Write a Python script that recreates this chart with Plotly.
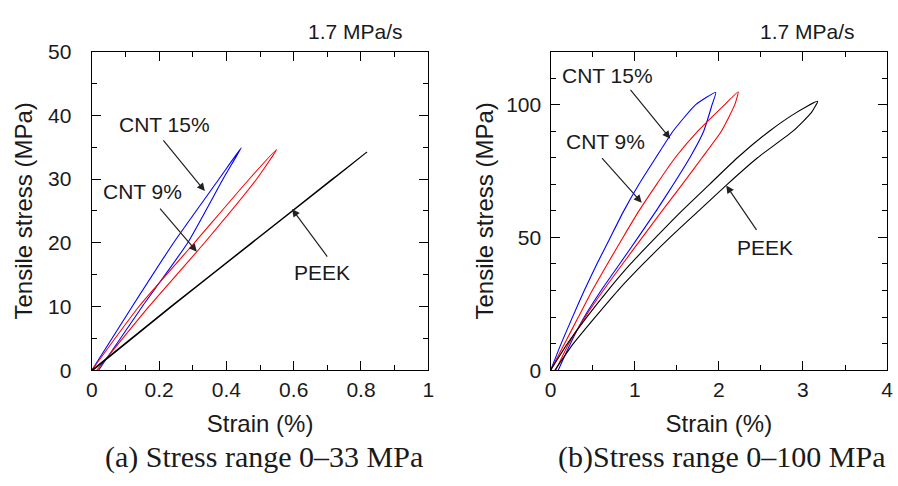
import plotly.graph_objects as go

# ---- Panel (a): stress range 0-33 MPa ----
# loading branch then unloading branch for each material (strain %, stress MPa)
a_cnt15_strain = [0.0, 0.12, 0.243, 0.378, 0.444, 0.39, 0.285, 0.15, 0.02]
a_cnt15_stress = [0.0, 10.0, 20.0, 30.0, 34.9, 30.0, 20.0, 10.0, 0.0]
a_cnt9_strain = [0.0, 0.14, 0.305, 0.468, 0.549, 0.49, 0.335, 0.17, 0.015]
a_cnt9_stress = [0.0, 10.0, 20.0, 30.0, 34.6, 30.0, 20.0, 10.0, 0.0]
a_peek_strain = [0.0, 0.235, 0.475, 0.715, 0.817, 0.717, 0.477, 0.237, 0.003]
a_peek_stress = [0.0, 10.0, 20.0, 30.0, 34.2, 30.0, 20.0, 10.0, 0.0]

# ---- Panel (b): stress range 0-100 MPa ----
b_stress_up = [0, 10, 20, 30, 40, 50, 60, 70, 80, 90, 100]
b_cnt15_load = [0.0, 0.125, 0.26, 0.40, 0.55, 0.71, 0.87, 1.05, 1.25, 1.455, 1.725]
b_cnt15_peak = (1.963, 104.6)
b_cnt15_unload = [0.09, 0.235, 0.40, 0.60, 0.82, 1.04, 1.255, 1.46, 1.655, 1.82, 1.92]
b_cnt9_load = [0.0, 0.165, 0.33, 0.495, 0.675, 0.86, 1.05, 1.26, 1.48, 1.75, 2.07]
b_cnt9_peak = (2.23, 104.8)
b_cnt9_unload = [0.06, 0.215, 0.41, 0.625, 0.855, 1.09, 1.325, 1.565, 1.80, 2.03, 2.19]

b_peek_stress_up = [0, 10, 20, 30, 40, 50, 60, 70, 80, 90, 97]
b_peek_load = [0.0, 0.20, 0.43, 0.68, 0.95, 1.25, 1.56, 1.89, 2.22, 2.60, 2.92]
b_peek_peak = (3.175, 101.3)
b_peek_unload = [0.05, 0.27, 0.53, 0.80, 1.10, 1.42, 1.76, 2.10, 2.46, 2.88, 3.10]

labels = ["CNT 15%", "CNT 9%", "PEEK"]
colors = ["#0000ff", "#ff0000", "#000000"]

SANS = "Liberation Sans, Arial, sans-serif"
SERIF = "Liberation Serif, Times New Roman, serif"
INK = "#1a1a1a"


def loop(stress, load, peak, unload):
    """Join the loading branch, the peak and the reversed unloading branch."""
    xs = list(load) + [peak[0]] + list(reversed(unload))
    ys = list(stress) + [peak[1]] + list(reversed(stress))
    return xs, ys


fig = go.Figure()

panel_a = [(a_cnt15_strain, a_cnt15_stress), (a_cnt9_strain, a_cnt9_stress), (a_peek_strain, a_peek_stress)]
panel_b = [loop(b_stress_up, b_cnt15_load, b_cnt15_peak, b_cnt15_unload),
           loop(b_stress_up, b_cnt9_load, b_cnt9_peak, b_cnt9_unload),
           loop(b_peek_stress_up, b_peek_load, b_peek_peak, b_peek_unload)]

for (xs, ys), name, c in zip(panel_a, labels, colors):
    fig.add_trace(go.Scatter(x=xs, y=ys, mode="lines", name=name, xaxis="x", yaxis="y",
                             line=dict(color=c, width=1.1, shape="spline", smoothing=0.5),
                             showlegend=False))
for (xs, ys), name, c in zip(panel_b, labels, colors):
    fig.add_trace(go.Scatter(x=xs, y=ys, mode="lines", name=name, xaxis="x2", yaxis="y2",
                             line=dict(color=c, width=1.1, shape="spline", smoothing=0.5),
                             showlegend=False))


def axis_style(**kw):
    base = dict(showgrid=False, zeroline=False, showline=True, linecolor="black", linewidth=1.4,
                mirror="allticks", ticks="inside", ticklen=9, tickwidth=1.3, tickcolor="black",
                tickfont=dict(family=SANS, size=21, color=INK),
                title_font=dict(family=SANS, size=24, color=INK))
    base.update(kw)
    return base


y_dom = [1 - 376 / 486, 1 - 41.5 / 486]
fig.update_layout(
    width=898, height=486, margin=dict(l=0, r=0, t=0, b=0),
    plot_bgcolor="white", paper_bgcolor="white",
    xaxis=axis_style(domain=[87 / 898, 428 / 898], range=[0, 1], dtick=0.2, anchor="y",
                     minor=dict(dtick=0.1, ticklen=5, tickcolor="black", ticks="inside"),
                     title=dict(text="Strain (%)", standoff=15)),
    yaxis=axis_style(domain=y_dom, range=[0, 50], dtick=10, anchor="x", ticklabelstandoff=15,
                     minor=dict(dtick=5, ticklen=5, tickcolor="black", ticks="inside"),
                     title=dict(text="Tensile stress (MPa)", standoff=8)),
    xaxis2=axis_style(domain=[552 / 898, 893 / 898], range=[0, 4], dtick=1, anchor="y2",
                      minor=dict(dtick=0.5, ticklen=5, tickcolor="black", ticks="inside"),
                      title=dict(text="Strain (%)", standoff=15)),
    yaxis2=axis_style(domain=y_dom, range=[0, 120], tickvals=[0, 50, 100], anchor="x2",
                      ticklabelstandoff=4,
                      minor=dict(dtick=10, ticklen=5, tickcolor="black", ticks="inside"),
                      title=dict(text="Tensile stress (MPa)", standoff=5)),
)

ann_font = dict(family=SANS, size=21, color=INK)

# (axis suffix, label, text position, arrow tip, arrow tail)
callouts = [
    ("", "CNT 15%", (0.217, 38.6), (0.336, 28.1), (0.209, 36.3)),
    ("", "CNT 9%", (0.151, 28.1), (0.312, 18.6), (0.199, 25.6)),
    ("", "PEEK", (0.685, 15.4), (0.595, 25.3), (0.703, 17.6)),
    ("2", "CNT 15%", (0.674, 111.1), (1.423, 87.2), (0.935, 106.1)),
    ("2", "CNT 9%", (0.657, 86.0), (1.083, 63.1), (0.595, 80.4)),
    ("2", "PEEK", (2.551, 46.2), (2.088, 69.6), (2.46, 52.3)),
]
for sfx, text, (tx, ty), (hx, hy), (bx, by) in callouts:
    xr, yr = "x" + sfx, "y" + sfx
    fig.add_annotation(x=tx, y=ty, xref=xr, yref=yr, text=text, showarrow=False, font=ann_font,
                       xanchor="center", yanchor="middle")
    fig.add_annotation(x=hx, y=hy, xref=xr, yref=yr, ax=bx, ay=by, axref=xr, ayref=yr,
                       text="", showarrow=True, arrowhead=2, arrowsize=1.3, arrowwidth=1.2,
                       arrowcolor="#222222")

# loading-rate labels above each panel
for cx in (354, 812):
    fig.add_annotation(x=cx / 898, y=1 - 20 / 486, xref="paper", yref="paper", text="1.7 MPa/s",
                       showarrow=False, xanchor="center", yanchor="middle",
                       font=dict(family=SANS, size=21, color=INK))

# panel captions
captions = ["(a) Stress range 0\u201333 MPa", "(b)Stress range 0\u2013100 MPa"]
for cx, cap in zip((261.5, 725.5), captions):
    fig.add_annotation(x=cx / 898, y=1 - 467 / 486, xref="paper", yref="paper", text=cap,
                       showarrow=False, xanchor="center", yanchor="middle",
                       font=dict(family=SERIF, size=30, color=INK))

fig.write_html("out.html")
